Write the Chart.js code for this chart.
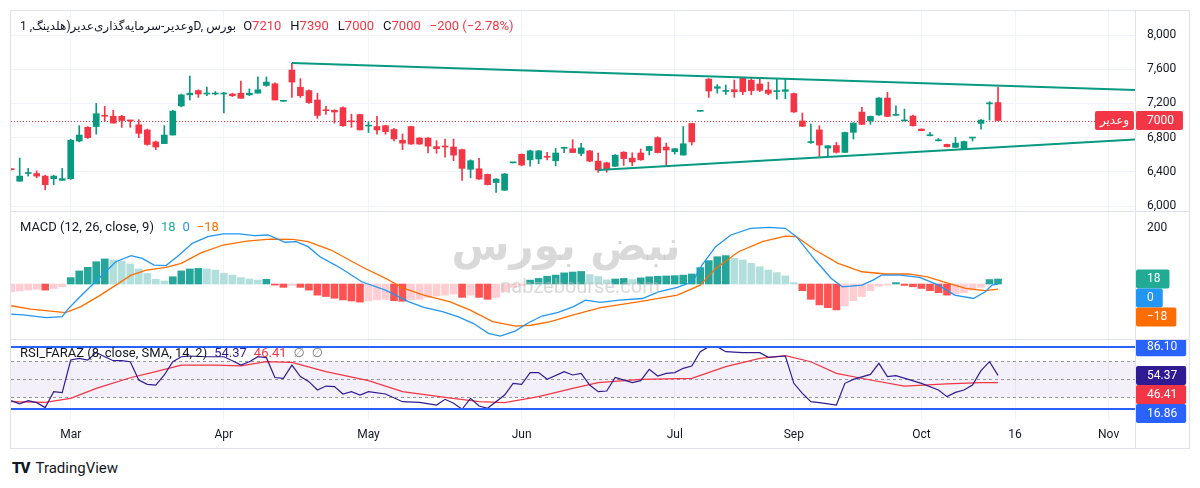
<!DOCTYPE html>
<html>
<head>
<meta charset="utf-8">
<script src="https://cdn.jsdelivr.net/npm/chart.js@4.4.1/dist/chart.umd.min.js"></script>
<style>
  html, body { margin:0; padding:0; background:#ffffff; }
  body { width:1200px; height:488px; position:relative; overflow:hidden; }
  #frame { position:absolute; left:10px; top:10px; width:1178px; height:437px; border:1px solid #e0e3eb; }
  .pane { position:absolute; left:0; }
  #mainPane { top:11px; }
  #macdPane { top:212px; }
  #rsiPane { top:340px; }
  #brand { position:absolute; left:12px; top:459px; font-family:Roboto, sans-serif; font-size:15px; color:#131722; }
  #brand b { font-weight:900; letter-spacing:-1px; margin-right:6px; }
</style>
</head>
<body>
<div id="frame"></div>
<canvas id="mainPane" class="pane" width="1200" height="201"></canvas>
<canvas id="macdPane" class="pane" width="1200" height="128"></canvas>
<canvas id="rsiPane" class="pane" width="1200" height="108"></canvas>
<div id="brand"><b>TV</b>TradingView</div>
<script>
// daily candles, one per trading day
const opens  = [6432,6290,6380,6380,6350,6320,6300,6320,6760,6920, 6930,7060,7050,7050,7000,6950,6890,6750,6730,6830,
                7170,7300,7350,7310,7310,7310,7310,7320,7300,7320, 7410,7430,7225,7590,7390,7350,7240,7120,7120,7150,
                6990,7070,6935,6930,6940,6895,6770,6930,6795,6795, 6695,6695,6690,6660,6430,6435,6370,6275,6185,6505,
                6605,6540,6550,6575,6530,6675,6670,6615,6645,6525, 6505,6465,6630,6560,6620,6648,6800,6690,6635,6596,
                6965,7108,7485,7377,7340,7360,7500,7472,7427,7357, 7338,7341,7315,6995,6742,6890,6678,6708,6627,6862,
                7099,6995,7065,7263,7060,6995,7052,6900,6822,6763, 6721,6686,6666,6795,6966,7195,7210];
const highs  = [6435,6560,6440,6410,6360,6360,6440,6780,6940,6930, 7200,7165,7120,7060,7005,7010,6900,6760,6940,7120,
                7310,7520,7360,7390,7340,7330,7320,7460,7370,7510, 7510,7440,7230,7670,7490,7360,7320,7165,7125,7160,
                7075,7070,6985,7050,6945,6910,6842,6935,6800,6800, 6764,6783,6783,6665,6540,6557,6375,6320,6380,6512,
                6610,6655,6650,6627,6674,6690,6775,6733,6650,6620, 6510,6600,6635,6623,6666,6700,6810,6736,6675,6930,
                6970,7112,7490,7420,7415,7473,7505,7493,7485,7450, 7485,7485,7320,7088,6959,6939,6710,6744,6865,6975,
                7154,7052,7268,7329,7173,7134,7065,6902,6861,6791, 6725,6803,6760,6803,7010,7220,7390];
const lows   = [6420,6290,6350,6330,6190,6250,6300,6310,6750,6790, 6840,6990,6970,6920,6920,6800,6710,6660,6730,6830,
                7160,7240,7270,7290,7300,7090,7280,7260,7290,7320, 7400,7240,7225,7270,7270,7200,7025,7070,6970,6930,
                6920,6890,6860,6840,6840,6760,6658,6720,6720,6620, 6617,6570,6530,6300,6330,6310,6245,6160,6180,6503,
                6470,6465,6495,6540,6471,6625,6625,6588,6518,6393, 6395,6460,6475,6471,6535,6596,6620,6471,6608,6595,
                6713,7108,7270,7320,7305,7271,7302,7302,7337,7300, 7251,7255,7095,6930,6732,6580,6588,6620,6625,6783,
                6950,6955,7060,7045,7060,6995,6935,6880,6820,6760, 6690,6686,6660,6760,6900,7005,7000];
const closes = [6425,6350,6390,6350,6250,6350,6320,6770,6830,6800, 7080,7050,6970,7000,6995,6850,6720,6690,6830,7110,
                7300,7320,7310,7320,7320,7320,7290,7260,7320,7360, 7450,7240,7230,7450,7290,7210,7060,7115,7100,6940,
                6985,6890,6940,6890,6870,6785,6735,6725,6725,6700, 6670,6690,6595,6440,6530,6315,6250,6315,6375,6510,
                6480,6645,6645,6570,6620,6680,6625,6680,6525,6420, 6425,6595,6555,6515,6540,6697,6625,6655,6670,6728,
                6750,7112,7345,7395,7345,7337,7337,7350,7353,7318, 7342,7360,7100,6932,6745,6713,6705,6628,6860,6970,
                6955,7048,7263,7048,7065,6998,6939,6881,6825,6766, 6693,6736,6754,6798,7005,7200,7000];

const monthIdx = [7, 25, 42, 60, 78, 92, 107, 118, 129];
const monthLbl = ['Mar', 'Apr', 'May', 'Jun', 'Jul', 'Sep', 'Oct', '16', 'Nov'];
const priceTicks = [8000, 7600, 7200, 6800, 6400, 6000];

// trend lines (candle index, price)
const upperTrendIdx = [33, 132.1];
const upperTrendVal = [7672, 7358];
const lowerTrendIdx = [69, 132.1];
const lowerTrendVal = [6420, 6778];

// MACD (12, 26, close, 9)
const histVals = [-28,-25,-22,-19,-22,-16,-10,23,47,60, 80,90,86,83,72,54,38,17,11,26,
                  47,54,56,54,50,38,32,23,18,14, 17,-4,-12,-5,-12,-22,-40,-45,-51,-57,
                  -61,-65,-61,-57,-55,-60,-62,-57,-55,-48, -43,-40,-36,-48,-40,-48,-55,-48,-28,-12,
                  -5,14,20,28,32,40,43,45,34,27, 15,18,20,16,22,26,28,29,30,32,
                  36,59,84,98,102,92,86,74,62,50, 41,29,5,-24,-55,-75,-85,-93,-79,-60,
                  -45,-24,-8,-4,5,-5,-10,-16,-24,-31, -40,-36,-31,-22,-12,16,18];
const macdIdx = [0,1.4,4.1,6,6.6,7.8,9.3,10.5,12.3,14.1,15.4,16.8,18.2,19.5,21.3,23.1,24.9,26.8,28.6,30.2,
                 32.2,33.5,34.9,36.3,38.1,39.4,41.2,44,46.7,48.5,50.7,52.5,54.3,56.1,57.5,59.3,60.7,62.4,64.3,66.1,
                 67.5,69.3,71.5,74.2,76.1,78.3,80.1,81.2,82.8,84.6,86.9,89.1,91,92.3,94.5,96.4,97.7,100,101.3,102.3,
                 104.5,106.8,109,110.9,113.1,114.5,115.3,116];
const macdVal = [-108,-111,-121,-117,-93,-55,-10,26,80,102,92,68,66,98,146,170,180,180,174,176,
                 150,152,134,98,68,44,8,-22,-63,-84,-99,-117,-141,-177,-187,-168,-141,-115,-102,-81,
                 -58,-66,-58,-52,-28,-12,8,68,134,176,200,203,200,170,86,20,-10,-4,14,32,
                 32,24,-4,-40,-52,-28,-4,0];
const sigIdx = [0,2.3,6.4,8.2,10.5,12.3,14.1,15.9,18.2,20,22.3,24.9,27.7,30.4,33.1,34.9,37.6,41.2,44,46.2,
                48.5,51.6,53.9,56.6,59.3,61.1,63.4,66.1,69.3,73.7,78.3,81,82.8,85.5,88.3,91,92.3,94.5,97.2,100,
                102.8,105.5,107.7,109.9,112.2,114.5,116];
const sigVal = [-78,-90,-103,-81,-40,-4,32,50,60,74,112,140,154,161,160,152,122,62,20,-16,
                -40,-64,-93,-135,-151,-148,-135,-111,-85,-64,-40,-4,56,116,152,172,170,122,74,44,
                36,36,26,5,-16,-24,-18];

// RSI_FARAZ (8, close, SMA, 14, 2)
const rsiIdx = [0,1,2,3,4,5,6,7,8,9,10,11,12,13,14,15,16,17,18,19,20,21,23,25,26,27,28,29,30,31,
                32,33,34,35,36,37,38,39,40,41,42,44,46,48,50,51,52,53,54,55,56,58,59,60,61,62,63,65,66,67,
                68,69,70,71,73,74,75,76,77,78,79,80,81,82,83,84,86,88,89,91,92,93,94,95,97,98,99,101,102,103,
                104,107,109,110,111,112,113,114,115,116];
const rsiVal = [26.4,22.8,26.4,24.2,18.7,36.4,35.3,71.4,73.2,71.4,79.8,75,70.6,70.6,69.5,49.3,44.5,43.7,54.8,69.5,
                75,75.8,75,75,70.6,65.8,69.5,75,74,52,51,65.8,53,47.4,38.2,42.6,41.9,33.8,36.4,32.7,
                36.4,33.8,25.3,24.6,21.6,27.9,23.5,16.86,29,20.5,18,32.7,45.6,44.5,57.4,57.4,50,58.5,54.8,56.6,
                43.7,36.4,37.1,52.2,46.3,48.5,61,53.7,56.6,57.4,62.2,64.7,80.6,86.1,86.1,80.6,79.5,79.5,74.3,75.8,
                45.6,34.5,25.3,24.2,21.6,45.6,50,55.5,67.7,53,54.1,45.6,38.2,30.9,35.6,38.2,43.7,59.6,69.5,54.37];
const smaIdx = [0,4,7,10,14,17,20,24,27,30,33,37,42,46,51,55,58,62,66,69,74,80,84,88,91,94,97,101,105,110,114,116];
const smaVal = [25.3,24.6,29,40,51.8,58.5,65.8,65.8,65,69.5,68.8,58.5,48.5,36.4,30.1,25.3,24.2,30.9,40,46.3,
                50,51,64,73.2,76.2,69.5,56.6,49.3,42.6,44.9,46.3,46.41];
const rsiMax = 86.10;
const rsiMin = 16.86;
const rsiLevels = [70, 50, 30];

const symbolName = 'وعدیر';
const symbolTitle = 'وعدیر-سرمایه‌گذاری‌عدیر(هلدینگ, 1D, بورس';

// ---- look ----
const FONT = 'Roboto, "DejaVu Sans", sans-serif';
const UP = '#089981', DOWN = '#f23645', GRID = '#f0f3fa', LINE = '#e0e3eb', TEXT = '#131722';
const X_MIN = -0.02, X_MAX = 132.1;
Chart.defaults.font.family = FONT;

function pts(xs, ys) { return xs.map((x, k) => ({ x: x, y: ys[k] })); }

function valueBox(ctx, x, yc, text, bg) {
  ctx.font = '12px ' + FONT;
  const w = ctx.measureText(text).width;
  ctx.fillStyle = bg;
  ctx.beginPath(); ctx.roundRect(x, yc - 9.5, w + 20, 19, 2); ctx.fill();
  ctx.fillStyle = '#ffffff'; ctx.textAlign = 'left'; ctx.textBaseline = 'middle';
  ctx.fillText(text, x + 11, yc + 0.5);
}

function stackBoxes(ctx, scale, x, items) {
  const list = items.map(it => ({ t: it.t, c: it.c, y: scale.getPixelForValue(it.v) })).sort((a, b) => a.y - b.y);
  let prev = -100;
  list.forEach(it => { const y = Math.max(it.y, prev + 19); valueBox(ctx, x, y, it.t, it.c); prev = y; });
}

function legendLine(ctx, x, y, parts) {
  ctx.font = '13px ' + FONT; ctx.textBaseline = 'middle'; ctx.textAlign = 'left';
  parts.forEach(p => { ctx.fillStyle = p[1]; ctx.fillText(p[0], x, y); x += ctx.measureText(p[0]).width + 7; });
}

function paneLines(chart, bottom) {
  const ctx = chart.ctx, a = chart.chartArea;
  ctx.save();
  ctx.strokeStyle = LINE; ctx.lineWidth = 1;
  ctx.beginPath(); ctx.moveTo(a.right + 0.5, 0); ctx.lineTo(a.right + 0.5, chart.height); ctx.stroke();
  if (bottom) {
    ctx.beginPath(); ctx.moveTo(10, chart.height - 0.5); ctx.lineTo(1190, chart.height - 0.5); ctx.stroke();
  }
  ctx.restore();
}

function fmt(v) { return (v < 0 ? '−' : '') + Math.abs(v); }

function xScale(showLabels) {
  return {
    type: 'linear', min: X_MIN, max: X_MAX, offset: false, bounds: 'data',
    afterBuildTicks: s => { s.ticks = monthIdx.map(v => ({ value: v })); },
    ticks: { display: showLabels, autoSkip: false, maxRotation: 0, color: TEXT, font: { size: 12 }, padding: 8,
             callback: v => monthLbl[monthIdx.indexOf(v)] },
    grid: { color: GRID, drawTicks: false, offset: false },
    border: { display: false },
    afterFit: s => { s.height = showLabels ? 28 : 0; s.paddingLeft = 0; s.paddingRight = 0; }
  };
}

function yScale(min, max, ticks, gridOn) {
  return {
    position: 'right', min: min, max: max, beginAtZero: false, bounds: 'data',
    afterBuildTicks: s => { s.ticks = ticks.map(v => ({ value: v })); },
    ticks: { display: ticks.length > 0, color: TEXT, font: { size: 12 }, padding: 12 },
    grid: { display: gridOn, color: GRID, drawTicks: false },
    border: { display: false },
    afterFit: s => { s.width = 54; s.paddingTop = 0; s.paddingBottom = 0; }
  };
}

function baseOptions(scales) {
  return {
    responsive: false, animation: false, devicePixelRatio: 1, events: [],
    layout: { padding: { left: 11, right: 11, top: 0, bottom: 0 } },
    plugins: { legend: { display: false }, tooltip: { enabled: false } },
    scales: scales
  };
}

// ---- price pane ----
const candleColors = closes.map((c, i) => c >= opens[i] ? UP : DOWN);
const last = closes.length - 1;
const change = closes[last] - closes[last - 1];
const changePct = (change / closes[last - 1] * 100).toFixed(2);

const mainDecor = {
  id: 'mainDecor',
  beforeDatasetsDraw(chart) {
    const ctx = chart.ctx, a = chart.chartArea;
    const py = Math.round(chart.scales.y.getPixelForValue(closes[last])) + 0.5;
    ctx.save();
    ctx.strokeStyle = DOWN; ctx.lineWidth = 1; ctx.setLineDash([1, 2]);
    ctx.beginPath(); ctx.moveTo(a.left, py); ctx.lineTo(a.right, py); ctx.stroke();
    ctx.restore();
  },
  afterDraw(chart) {
    const ctx = chart.ctx, a = chart.chartArea;
    paneLines(chart, true);
    ctx.save();
    const py = chart.scales.y.getPixelForValue(closes[last]);
    const boxColor = candleColors[last];
    // symbol tag left of the axis
    ctx.fillStyle = boxColor;
    ctx.beginPath(); ctx.roundRect(a.right - 40, py - 9.5, 39, 19, 2); ctx.fill();
    ctx.fillStyle = '#ffffff'; ctx.font = '12px ' + FONT; ctx.textAlign = 'center'; ctx.textBaseline = 'middle';
    ctx.fillText(symbolName, a.right - 20.5, py + 0.5);
    valueBox(ctx, a.right + 1, py, String(closes[last]), boxColor);
    // header
    ctx.font = '12px ' + FONT; ctx.textAlign = 'left'; ctx.textBaseline = 'middle'; ctx.fillStyle = TEXT;
    ctx.fillText(symbolTitle, 20, 16);
    let x = 20 + ctx.measureText(symbolTitle).width + 7;
    ctx.font = '13px ' + FONT;
    const parts = [['O', TEXT, 0], [String(opens[last]), DOWN, 9], ['H', TEXT, 0], [String(highs[last]), DOWN, 9],
                   ['L', TEXT, 0], [String(lows[last]), DOWN, 9], ['C', TEXT, 0], [String(closes[last]), DOWN, 9],
                   [fmt(change) + ' (' + fmt(changePct) + '%)', DOWN, 0]];
    parts.forEach(p => { ctx.fillStyle = p[1]; ctx.fillText(p[0], x, 16); x += ctx.measureText(p[0]).width + p[2]; });
    ctx.restore();
  }
};

const mainChart = new Chart(document.getElementById('mainPane'), {
  type: 'bar',
  data: {
    datasets: [
      { data: highs.map((h, i) => ({ x: i, y: [lows[i], h] })), backgroundColor: candleColors,
        barThickness: 1, grouped: false, order: 3 },
      { data: closes.map((c, i) => ({ x: i, y: [opens[i], c] })), backgroundColor: candleColors,
        barThickness: 6, grouped: false, minBarLength: 1, order: 2 },
      { type: 'line', data: pts(upperTrendIdx, upperTrendVal), borderColor: UP, borderWidth: 2, pointRadius: 0, order: 1 },
      { type: 'line', data: pts(lowerTrendIdx, lowerTrendVal), borderColor: UP, borderWidth: 2, pointRadius: 0, order: 1 }
    ]
  },
  options: baseOptions({ x: xScale(false), y: yScale(5930, 8281, priceTicks, true) }),
  plugins: [mainDecor]
});

// ---- MACD pane ----
const histColors = histVals.map((v, i) => {
  const p = i > 0 ? histVals[i - 1] : v - 1;
  if (v >= 0) return v > p ? '#26a69a' : '#b2dfdb';
  return v > p ? '#ffcdd2' : '#ff5252';
});

const macdDecor = {
  id: 'macdDecor',
  afterDatasetsDraw(chart) {
    const ctx = chart.ctx;
    ctx.save();
    // watermark
    ctx.fillStyle = 'rgba(185,185,185,0.55)'; ctx.textAlign = 'center'; ctx.textBaseline = 'middle';
    ctx.font = 'bold 42px "DejaVu Sans", sans-serif';
    ctx.fillText('نبض بورس', 566, 37);
    ctx.font = '20px ' + FONT;
    ctx.fillText('nabzebourse.com', 580, 76);
    ctx.restore();
  },
  afterDraw(chart) {
    const ctx = chart.ctx, a = chart.chartArea;
    paneLines(chart, true);
    ctx.save();
    const h = histVals[last], m = macdVal[macdVal.length - 1], s = sigVal[sigVal.length - 1];
    legendLine(ctx, 20, 16, [['MACD (12, 26, close, 9)', TEXT], [fmt(h), '#22ab94'], [fmt(m), '#2196f3'], [fmt(s), '#ff6d00']]);
    stackBoxes(ctx, chart.scales.y, a.right + 1, [
      { v: h, t: fmt(h), c: '#22ab94' }, { v: m, t: fmt(m), c: '#2196f3' }, { v: s, t: fmt(s), c: '#ff6d00' }
    ]);
    ctx.restore();
  }
};

const macdChart = new Chart(document.getElementById('macdPane'), {
  type: 'bar',
  data: {
    datasets: [
      { data: histVals.map((v, i) => ({ x: i, y: v })), backgroundColor: histColors, barThickness: 7, grouped: false, order: 3 },
      { type: 'line', data: pts(macdIdx, macdVal), borderColor: '#2196f3', borderWidth: 1.3, pointRadius: 0, order: 1 },
      { type: 'line', data: pts(sigIdx, sigVal), borderColor: '#ff6d00', borderWidth: 1.3, pointRadius: 0, order: 2 }
    ]
  },
  options: baseOptions({ x: xScale(false), y: yScale(-201, 258.5, [200], false) }),
  plugins: [macdDecor]
});

// ---- RSI pane ----
const rsiDecor = {
  id: 'rsiDecor',
  beforeDatasetsDraw(chart) {
    const ctx = chart.ctx, a = chart.chartArea, y = chart.scales.y;
    ctx.save();
    const top = y.getPixelForValue(rsiLevels[0]), bot = y.getPixelForValue(rsiLevels[2]);
    ctx.fillStyle = 'rgba(126,87,194,0.09)';
    ctx.fillRect(a.left, top, a.right - a.left, bot - top);
    ctx.strokeStyle = '#9598a1'; ctx.lineWidth = 1; ctx.setLineDash([3, 3]);
    rsiLevels.forEach(v => {
      const py = Math.round(y.getPixelForValue(v)) + 0.5;
      ctx.beginPath(); ctx.moveTo(a.left, py); ctx.lineTo(a.right, py); ctx.stroke();
    });
    ctx.restore();
  },
  afterDatasetsDraw(chart) {
    const ctx = chart.ctx, a = chart.chartArea, y = chart.scales.y;
    ctx.save();
    ctx.strokeStyle = '#2962ff'; ctx.lineWidth = 2;
    [rsiMax, rsiMin].forEach(v => {
      const py = Math.round(y.getPixelForValue(v));
      ctx.beginPath(); ctx.moveTo(a.left, py); ctx.lineTo(a.right, py); ctx.stroke();
    });
    ctx.restore();
  },
  afterDraw(chart) {
    const ctx = chart.ctx, a = chart.chartArea;
    paneLines(chart, false);
    ctx.save();
    const r = rsiVal[rsiVal.length - 1], s = smaVal[smaVal.length - 1];
    legendLine(ctx, 20, 14, [['RSI_FARAZ (8, close, SMA, 14, 2)', TEXT], [r.toFixed(2), '#311b92'],
                             [s.toFixed(2), DOWN], ['∅', '#787b86'], ['∅', '#787b86']]);
    stackBoxes(ctx, chart.scales.y, a.right + 1, [
      { v: rsiMax, t: rsiMax.toFixed(2), c: '#2962ff' }, { v: r, t: r.toFixed(2), c: '#311b92' },
      { v: s, t: s.toFixed(2), c: DOWN }, { v: rsiMin, t: rsiMin.toFixed(2), c: '#2962ff' }
    ]);
    ctx.restore();
  }
};

const rsiChart = new Chart(document.getElementById('rsiPane'), {
  type: 'line',
  data: {
    datasets: [
      { data: pts(rsiIdx, rsiVal), borderColor: '#311b92', borderWidth: 1.2, pointRadius: 0, order: 1 },
      { data: pts(smaIdx, smaVal), borderColor: DOWN, borderWidth: 1.2, pointRadius: 0, order: 2 }
    ]
  },
  options: baseOptions({ x: xScale(true), y: yScale(5.03, 93.51, [], false) }),
  plugins: [rsiDecor]
});
</script>
</body>
</html>
